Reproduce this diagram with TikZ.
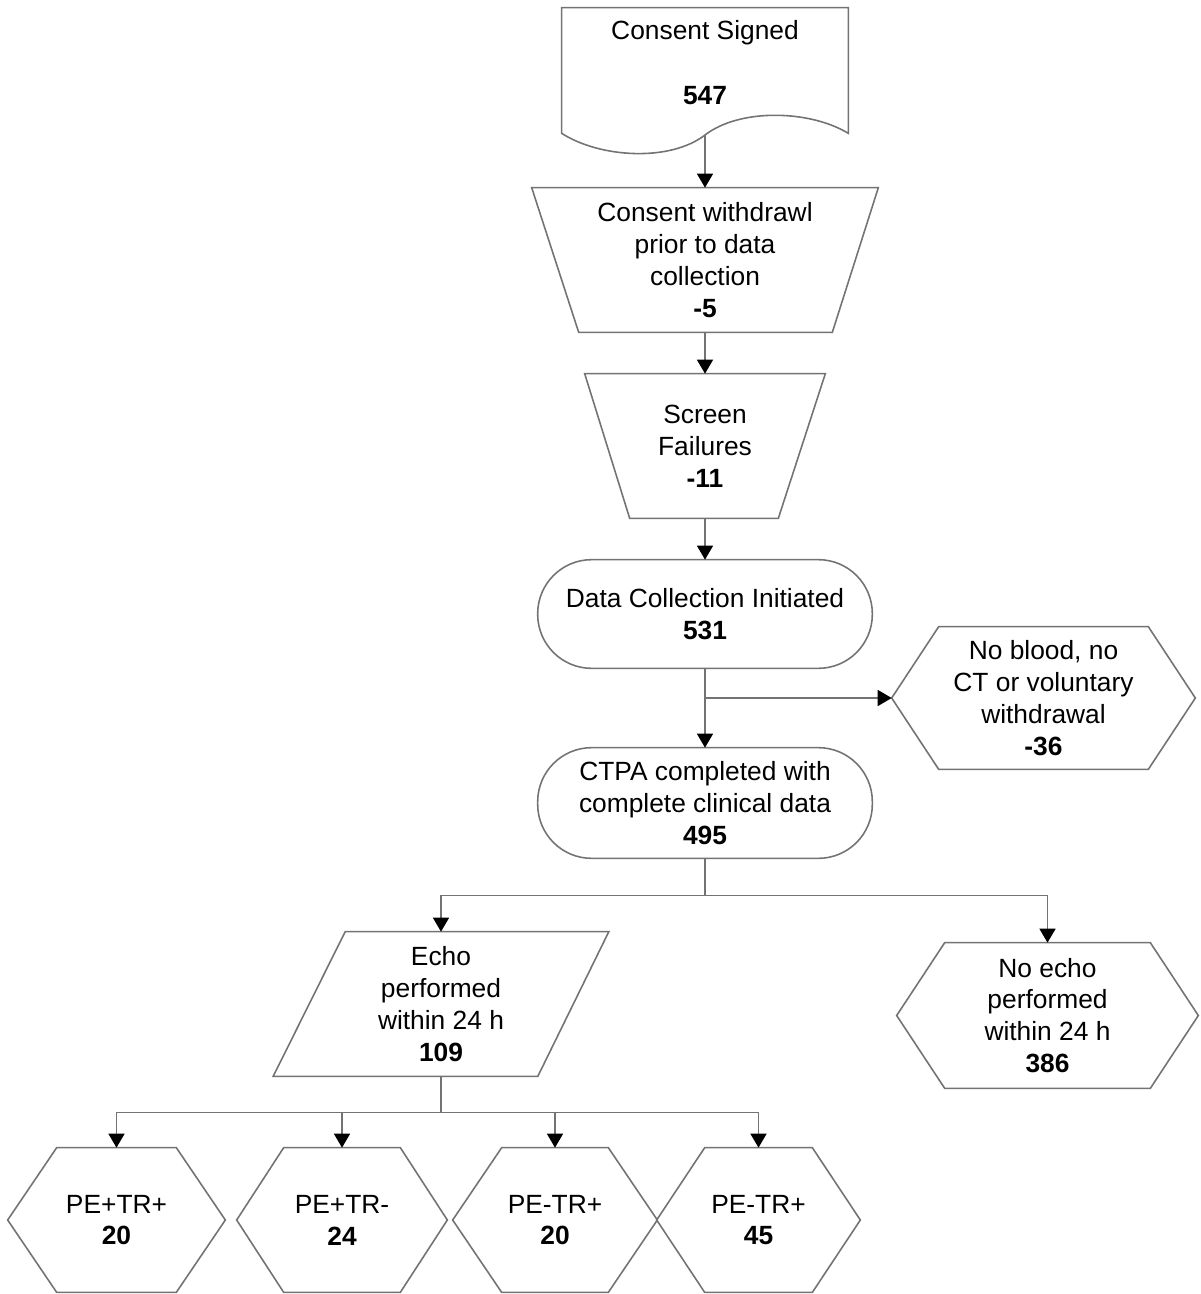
\documentclass[tikz,border=0pt]{standalone}
\usepackage{fontspec}
\setmainfont{Liberation Sans}
\usetikzlibrary{arrows.meta,calc}
\definecolor{linegray}{RGB}{115,115,115}
\newcommand\hexout[2]{%
  \draw[outl] (#1.west) -- ($(#1.north west)+(#2,0)$) -- ($(#1.north east)+(-#2,0)$) -- (#1.east)
    -- ($(#1.south east)+(-#2,0)$) -- ($(#1.south west)+(#2,0)$) -- cycle;}
\begin{document}
\begin{tikzpicture}[x=0.02cm,y=-0.02cm,
  box/.style={draw=none,align=center,inner sep=0pt,font=\fontsize{15pt}{18.14pt}\selectfont},
  outl/.style={draw=linegray,line width=0.9pt},
  ln/.style={draw=linegray,line width=0.9pt},
  arr/.style={draw=linegray,line width=0.9pt,-{Triangle[width=0.32cm,length=0.28cm,black]}}]
\useasboundingbox (0,0) rectangle (1200,1294);

% nodes
\node[box,minimum width=5.72cm,minimum height=2.18cm] (cs) at (705,62.5) {Consent Signed\\[18.7pt]\textbf{547}};
\node[box,minimum width=6.92cm,minimum height=2.88cm] (t1) at (705,260) {Consent withdrawl\\prior to data\\collection\\\textbf{-5}};
\node[box,minimum width=4.8cm,minimum height=2.88cm] (t2) at (705,446) {Screen\\Failures\\\textbf{-11}};
\node[box,minimum width=6.68cm,minimum height=2.16cm] (dc) at (705,614) {Data Collection Initiated\\\textbf{531}};
\node[box,minimum width=6.68cm,minimum height=2.2cm] (ct) at (705,803) {CTPA completed with\\complete clinical data\\\textbf{495}};
\node[box,minimum width=6.06cm,minimum height=2.84cm] (nb) at (1043.5,698) {No blood, no\\CT or voluntary\\withdrawal\\\textbf{-36}};
\node[box,minimum width=6.7cm,minimum height=2.88cm] (ec) at (441,1004) {Echo\\performed\\within 24 h\\\textbf{109}};
\node[box,minimum width=6.02cm,minimum height=2.9cm] (ne) at (1047.5,1015.5) {No echo\\performed\\within 24 h\\\textbf{386}};
\node[box,minimum width=4.34cm,minimum height=2.88cm] (h1) at (116.5,1220) {PE+TR+\\\textbf{20}};
\node[box,minimum width=4.2cm,minimum height=2.88cm] (h2) at (342,1220) {PE+TR-\\\textbf{24}};
\node[box,minimum width=4.08cm,minimum height=2.88cm] (h3) at (555,1220) {PE-TR+\\\textbf{20}};
\node[box,minimum width=4.06cm,minimum height=2.88cm] (h4) at (758.5,1220) {PE-TR+\\\textbf{45}};
\coordinate (csb) at (705,135);

% outlines
\draw[outl] (cs.north west) -- (cs.north east) -- ($(cs.south east)+(0,16)$)
  .. controls (810,110) and (740,108) .. (csb)
  .. controls (670,162) and (600,158) .. ($(cs.south west)+(0,16)$) -- cycle;
\draw[outl] (t1.north west) -- (t1.north east) -- ($(t1.south east)+(-46,0)$) -- ($(t1.south west)+(47,0)$) -- cycle;
\draw[outl] (t2.north west) -- (t2.north east) -- ($(t2.south east)+(-47,0)$) -- ($(t2.south west)+(45,0)$) -- cycle;
\draw[outl,rounded corners=1.08cm] (dc.north west) rectangle (dc.south east);
\draw[outl,rounded corners=1.08cm] (ct.north west) rectangle (ct.south east);
\hexout{nb}{47}
\draw[outl] ($(ec.north west)+(72,0)$) -- (ec.north east) -- ($(ec.south east)+(-71,0)$) -- (ec.south west) -- cycle;
\hexout{ne}{48}
\hexout{h1}{49}
\hexout{h2}{47}
\hexout{h3}{49}
\hexout{h4}{48}

% connectors
\draw[arr] (csb) -- (t1.north);
\draw[arr] (t1.south) -- (t2.north);
\draw[arr] (t2.south) -- (dc.north);
\draw[arr] (dc.south) -- (ct.north);
\draw[arr] (dc.south |- nb.west) -- (nb.west);
\draw[ln] (ct.south) -- ++(0,37) coordinate (j1);
\draw[arr] (j1) -| (ec.north);
\draw[arr] (j1) -| (ne.north);
\draw[ln] (ec.south) -- ++(0,36) coordinate (j2);
\draw[arr] (j2) -| (h1.north);
\draw[arr] (j2) -| (h2.north);
\draw[arr] (j2) -| (h3.north);
\draw[arr] (j2) -| (h4.north);
\end{tikzpicture}
\end{document}
